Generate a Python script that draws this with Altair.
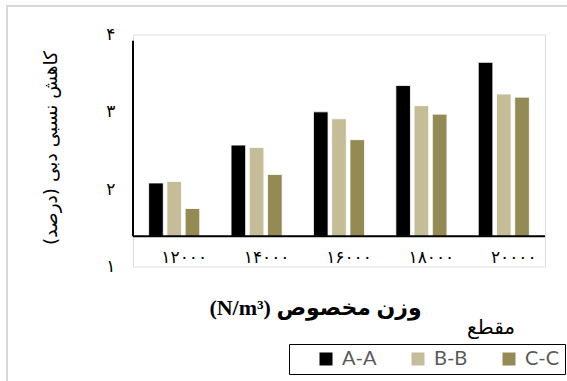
import json

import altair as alt
import pandas as pd

# Categories (specific weight, N/m^3) and cross-sections
weights = ["۱۲۰۰۰", "۱۴۰۰۰", "۱۶۰۰۰", "۱۸۰۰۰", "۲۰۰۰۰"]
sections = ["A-A", "B-B", "C-C"]

# Relative discharge reduction (%) per section
values_aa = [2.08, 2.57, 3.00, 3.34, 3.64]
values_bb = [2.10, 2.54, 2.91, 3.08, 3.23]
values_cc = [1.75, 2.19, 2.64, 2.97, 3.19]

y_ticks = [1, 2, 3, 4]
y_tick_labels = ["۱", "۲", "۳", "۴"]
colors = ["#000000", "#C4BD97", "#948A54"]

# where the axis lines start and stop on the value scale
axis_base = 1.39
axis_top = 3.92

rows = []
for sec, vals in zip(sections, [values_aa, values_bb, values_cc]):
    for w, v in zip(weights, vals):
        rows.append({"weight": w, "section": sec, "value": v})
df = pd.DataFrame(rows)

W, H = 412, 232
y_scale = alt.Scale(domain=[1, 4], nice=False, zero=False)
label_expr = (
    f"{json.dumps(y_tick_labels, ensure_ascii=False)}"
    f"[indexof({json.dumps(y_ticks)}, datum.value)]"
)

bars = alt.Chart(df).mark_bar(stroke="white", strokeWidth=0.8).encode(
    x=alt.X(
        "weight:N",
        sort=weights,
        scale=alt.Scale(paddingInner=0.38, paddingOuter=0.19),
        axis=alt.Axis(
            orient="bottom",
            offset=-20,
            domain=False,
            ticks=False,
            tickSize=0,
            labelPadding=3,
            labelOffset=10,
            labelAngle=0,
            labelFont="DejaVu Sans",
            labelFontSize=17,
            labelColor="black",
            title="(N/m³)  وزن مخصوص",
            titleFont="Liberation Serif, DejaVu Sans",
            titleFontSize=22,
            titleFontWeight="bold",
            titleColor="black",
            titleX=182,
            titleY=60.5,
            titleAlign="center",
            titleBaseline="middle",
            titleAnchor="start",
        ),
    ),
    xOffset=alt.XOffset(
        "section:N", sort=sections, scale=alt.Scale(paddingInner=0.2, paddingOuter=0)
    ),
    y=alt.Y(
        "value:Q",
        scale=y_scale,
        axis=alt.Axis(
            values=y_ticks,
            labelExpr=label_expr,
            domain=False,
            ticks=False,
            grid=False,
            labelPadding=18,
            labelFont="DejaVu Sans",
            labelFontSize=17,
            labelColor="black",
            title="کاهش نسبی دبی (درصد)",
            titleFont="DejaVu Sans",
            titleFontSize=18.5,
            titleFontWeight="normal",
            titleColor="black",
            titleX=-83,
            titleY=113,
            titleAngle=270,
            titleAlign="center",
            titleBaseline="middle",
            titleAnchor="start",
        ),
    ),
    y2=alt.datum(axis_base),
    color=alt.Color(
        "section:N",
        scale=alt.Scale(domain=sections, range=colors),
        legend=alt.Legend(
            orient="none",
            legendX=156,
            legendY=309.5,
            direction="horizontal",
            title=" ",
            titleOrient="left",
            titleFontSize=20,
            titlePadding=22,
            symbolType="square",
            symbolSize=169,
            symbolStrokeWidth=0,
            symbolOpacity=1,
            labelFont="Lato",
            labelFontSize=20,
            labelColor="#595959",
            labelOffset=6,
            columnPadding=31,
            padding=5,
            strokeColor="black",
        ),
    ),
)

one = pd.DataFrame({"k": [0]})

frame = alt.Chart(one).mark_rect(
    fillOpacity=0, stroke="#d9d9d9", strokeWidth=2
).encode(
    x=alt.value(-126), x2=alt.value(650), y=alt.value(-28.5), y2=alt.value(450)
)

y_line = alt.Chart(one).mark_rule(color="black", strokeWidth=2).encode(
    x=alt.value(0), y=alt.datum(axis_base), y2=alt.datum(axis_top)
)
x_line = alt.Chart(one).mark_rule(color="black", strokeWidth=2).encode(
    x=alt.value(0), x2=alt.value(W), y=alt.datum(axis_base)
)

chart = (
    alt.layer(frame, bars, y_line, x_line)
    .properties(
        width=W,
        height=H,
        autosize=alt.AutoSizeParams(type="none"),
        padding={"left": 133, "top": 34.5, "right": 22, "bottom": 114.5},
        title=alt.TitleParams(
            text="مقطع",
            orient="top",
            anchor="end",
            frame="group",
            font="DejaVu Sans",
            fontSize=20,
            fontWeight="normal",
            color="black",
            baseline="middle",
            offset=0,
            dx=-30,
            dy=342.5,
        ),
    )
    .configure_view(stroke=None)
    .configure_legend(strokeWidth=1.6)
    .configure(background="white")
)

chart.save("out.html", embed_options={"renderer": "svg", "actions": False})
